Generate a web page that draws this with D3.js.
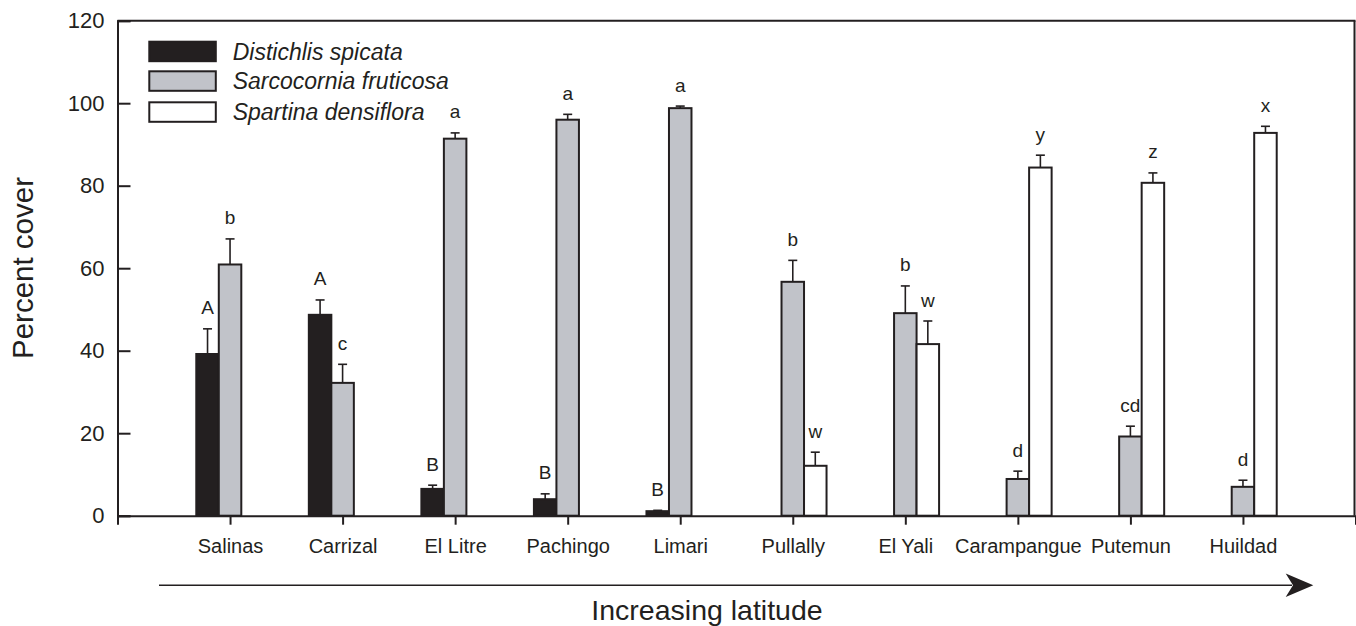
<!DOCTYPE html>
<html>
<head>
<meta charset="utf-8">
<script src="https://cdn.jsdelivr.net/npm/d3@7"></script>
<style>
  html, body { margin: 0; padding: 0; background: #fff; }
  svg text { font-family: "Liberation Sans", Arial, sans-serif; fill: #231f20; }
</style>
</head>
<body>
<svg id="chart" width="1356" height="626"></svg>
<script>
const sites = ["Salinas", "Carrizal", "El Litre", "Pachingo", "Limari", "Pullally", "El Yali", "Carampangue", "Putemun", "Huildad"];
const seriesNames = ["Distichlis spicata", "Sarcocornia fruticosa", "Spartina densiflora"];
const distichlis    = [39.2, 48.7, 6.5, 4.0, 1.1, null, null, null, null, null];
const distichlisErr = [45.3, 52.3, 7.4, 5.3, 1.3, null, null, null, null, null];
const distichlisLbl = ["A", "A", "B", "B", "B", null, null, null, null, null];
const sarcocornia    = [60.9, 32.2, 91.4, 96.0, 98.8, 56.7, 49.1, 8.9, 19.2, 7.0];
const sarcocorniaErr = [67.1, 36.7, 92.8, 97.3, 99.3, 61.9, 55.7, 10.8, 21.7, 8.6];
const sarcocorniaLbl = ["b", "c", "a", "a", "a", "b", "b", "d", "cd", "d"];
const spartina    = [null, null, null, null, null, 12.1, 41.6, 84.4, 80.7, 92.8];
const spartinaErr = [null, null, null, null, null, 15.4, 47.2, 87.4, 83.1, 94.4];
const spartinaLbl = [null, null, null, null, null, "w", "w", "y", "z", "x"];
const yTicks = [0, 20, 40, 60, 80, 100, 120];
const yLabel = "Percent cover";
const xLabel = "Increasing latitude";

const fills = ["#231f20", "#c1c3c9", "#ffffff"];
const ink = "#231f20";

const series = [
  {name: seriesNames[0], vals: distichlis, errs: distichlisErr, lbls: distichlisLbl},
  {name: seriesNames[1], vals: sarcocornia, errs: sarcocorniaErr, lbls: sarcocorniaLbl},
  {name: seriesNames[2], vals: spartina, errs: spartinaErr, lbls: spartinaLbl}
];

const svg = d3.select("#chart");
const pLeft = 117.5, pRight = 1355.5, pTop = 20.7, pBottom = 515.7;

const x = d3.scaleLinear().domain([0, sites.length + 1]).range([pLeft, pRight]);
const y = d3.scaleLinear().domain([0, 120]).range([pBottom, pTop]);
const bw = x(0.2) - x(0);

// bars, error bars, letters
series.forEach((s, k) => {
  const g = svg.append("g");
  sites.forEach((site, i) => {
    const v = s.vals[i];
    if (v === null) return;
    const cx = x(i + 1);
    const x0 = cx + (k - 1.5) * bw;
    const xc = x0 + bw / 2;
    const e = s.errs[i];
    g.append("line").attr("x1", xc).attr("x2", xc).attr("y1", y(v)).attr("y2", y(e))
      .attr("stroke", ink).attr("stroke-width", 1.6);
    g.append("line").attr("x1", xc - 4.5).attr("x2", xc + 4.5).attr("y1", y(e)).attr("y2", y(e))
      .attr("stroke", ink).attr("stroke-width", 1.6);
    g.append("rect").attr("x", x0).attr("y", y(v)).attr("width", bw).attr("height", y(0) - y(v))
      .attr("fill", fills[k]).attr("stroke", ink).attr("stroke-width", 2);
    if (s.lbls[i]) {
      g.append("text").attr("x", xc).attr("y", y(e) - 14.5).attr("text-anchor", "middle")
        .attr("font-size", 19).text(s.lbls[i]);
    }
  });
});

// frame: top and right lines
svg.append("line").attr("x1", pLeft).attr("x2", pRight).attr("y1", pTop).attr("y2", pTop)
  .attr("stroke", ink).attr("stroke-width", 2);
svg.append("line").attr("x1", pRight - 1).attr("x2", pRight - 1).attr("y1", pTop).attr("y2", pBottom)
  .attr("stroke", ink).attr("stroke-width", 2);

// y axis
const yAxis = d3.axisLeft(y).tickValues(yTicks).tickSize(-13).tickPadding(13).tickFormat(d3.format("d"));
const yg = svg.append("g").attr("transform", `translate(${pLeft},0)`).call(yAxis);
yg.select(".domain").attr("stroke", ink).attr("stroke-width", 2);
yg.selectAll(".tick line").attr("stroke", ink).attr("stroke-width", 2);
yg.selectAll(".tick text").attr("font-size", 22).attr("fill", ink)
  .style("font-family", '"Liberation Sans", Arial, sans-serif');

// x axis
const xAxis = d3.axisBottom(x).tickValues(d3.range(1, sites.length + 1)).tickSize(9).tickPadding(14)
  .tickFormat(d => sites[d - 1]);
const xg = svg.append("g").attr("transform", `translate(0,${pBottom})`).call(xAxis);
xg.select(".domain").attr("stroke", ink).attr("stroke-width", 2);
xg.selectAll(".tick line").attr("stroke", ink).attr("stroke-width", 2);
xg.selectAll(".tick text").attr("font-size", 20).attr("fill", ink)
  .style("font-family", '"Liberation Sans", Arial, sans-serif');

// y label
svg.append("text").attr("transform", "translate(33,268) rotate(-90)")
  .attr("text-anchor", "middle").attr("font-size", 29.5).text(yLabel);

// arrow
const ay = 585.3;
svg.append("line").attr("x1", 159).attr("x2", 1292).attr("y1", ay).attr("y2", ay)
  .attr("stroke", ink).attr("stroke-width", 1.6);
svg.append("path")
  .attr("d", `M1313.3,${ay} L1285.7,${ay - 11.7} L1293,${ay} L1285.7,${ay + 11.7} Z`)
  .attr("fill", ink);
svg.append("text").attr("x", 707).attr("y", 620).attr("text-anchor", "middle")
  .attr("font-size", 28.5).text(xLabel);

// legend
const lg = svg.append("g");
const legY = [41.7, 71.3, 102.3];
seriesNames.forEach((n, k) => {
  lg.append("rect").attr("x", 149.3).attr("y", legY[k]).attr("width", 66.5).attr("height", 19.5)
    .attr("fill", fills[k]).attr("stroke", ink).attr("stroke-width", 2);
  lg.append("text").attr("x", 232.7).attr("y", legY[k] + 18).attr("font-size", 23)
    .attr("font-style", "italic").text(n);
});
</script>
</body>
</html>
